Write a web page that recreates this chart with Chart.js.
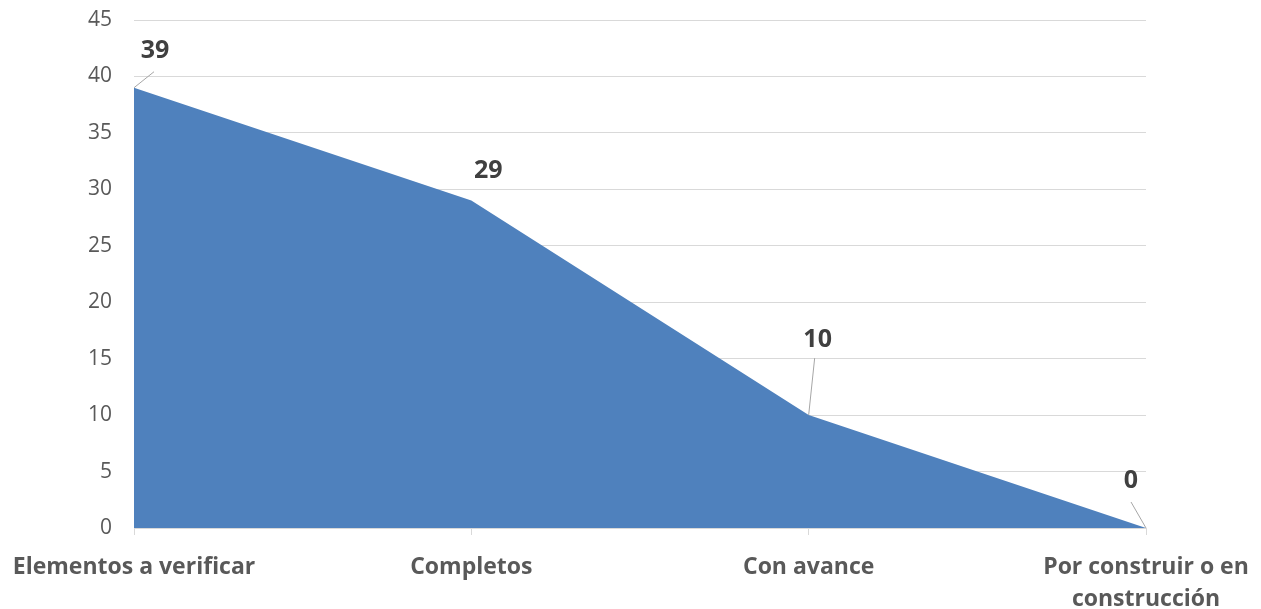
<!DOCTYPE html>
<html>
<head>
<meta charset="utf-8">
<script src="https://cdn.jsdelivr.net/npm/chart.js@4"></script>
<style>
  html, body { margin: 0; padding: 0; background: #ffffff; }
  #wrap { width: 1261px; height: 609px; position: relative; }
</style>
</head>
<body>
<div id="wrap"><canvas id="c" width="1261" height="609"></canvas></div>
<script>
// Categories and counts
const categories = [
  'Elementos a verificar',
  'Completos',
  'Con avance',
  ['Por construir o en', 'construcción']
];
const counts = [39, 29, 10, 0];
const yTicks = [0, 5, 10, 15, 20, 25, 30, 35, 40, 45];

const FONT = '"Open Sans", Lato, sans-serif';

// Value labels placed relative to each point, with optional leader lines
const labelPlacement = [
  { dx: 21, dy: -37, leader: [20, -16] },
  { dx: 17, dy: -30, leader: null },
  { dx: 9, dy: -75, leader: [6, -57] },
  { dx: -15, dy: -47, leader: [-15, -26] }
];

const valueLabels = {
  id: 'valueLabels',
  afterDatasetsDraw(chart) {
    const ctx = chart.ctx;
    const meta = chart.getDatasetMeta(0);
    ctx.save();
    meta.data.forEach((pt, i) => {
      const p = labelPlacement[i];
      if (p.leader) {
        ctx.beginPath();
        ctx.strokeStyle = '#a6a6a6';
        ctx.lineWidth = 1;
        ctx.moveTo(pt.x, pt.y);
        ctx.lineTo(pt.x + p.leader[0], pt.y + p.leader[1]);
        ctx.stroke();
      }
      ctx.font = 'bold 25px ' + FONT;
      ctx.fillStyle = '#404040';
      ctx.textAlign = 'center';
      ctx.textBaseline = 'middle';
      ctx.fillText(String(counts[i]), pt.x + p.dx, pt.y + p.dy);
    });
    ctx.restore();
  }
};

new Chart(document.getElementById('c'), {
  type: 'line',
  data: {
    labels: categories,
    datasets: [{
      data: counts,
      fill: 'origin',
      backgroundColor: '#4f81bd',
      borderWidth: 0,
      pointRadius: 0,
      tension: 0
    }]
  },
  options: {
    responsive: false,
    animation: false,
    layout: { padding: { left: 0, right: 115, top: 20, bottom: 0 } },
    plugins: { legend: { display: false }, tooltip: { enabled: false } },
    scales: {
      x: {
        offset: false,
        grid: {
          display: true,
          drawOnChartArea: false,
          drawTicks: true,
          tickLength: 7,
          color: '#d9d9d9'
        },
        border: { display: true, color: '#d9d9d9', width: 1 },
        ticks: {
          autoSkip: false,
          maxRotation: 0,
          minRotation: 0,
          padding: 16,
          color: '#595959',
          font: { family: FONT, size: 23, weight: 'bold', lineHeight: 1.39 }
        },
        afterFit(scale) {
          scale.height = 81;
          scale.paddingLeft = 0;
          scale.paddingRight = 0;
        }
      },
      y: {
        min: 0,
        max: 45,
        afterBuildTicks(scale) { scale.ticks = yTicks.map(v => ({ value: v })); },
        grid: { color: '#d9d9d9', lineWidth: 1, drawTicks: false },
        border: { display: false },
        ticks: {
          padding: 22,
          color: '#595959',
          font: { family: FONT, size: 21 }
        },
        afterFit(scale) {
          scale.width = 134;
          scale.paddingTop = 0;
          scale.paddingBottom = 0;
        }
      }
    }
  },
  plugins: [valueLabels]
});
</script>
</body>
</html>
